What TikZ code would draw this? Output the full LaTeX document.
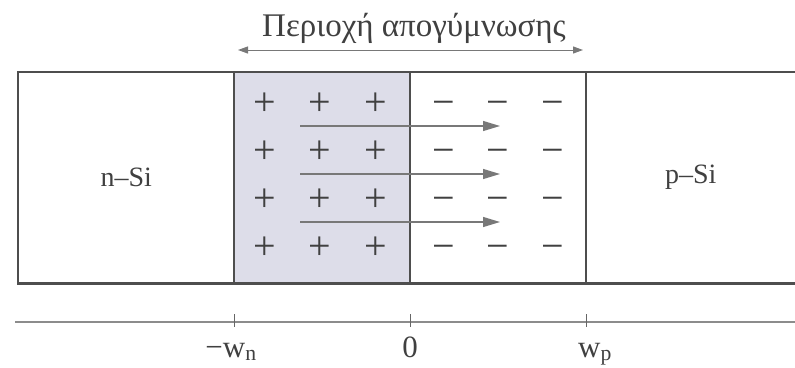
\documentclass[tikz,border=0pt]{standalone}
\usepackage{fontspec}
\setmainfont{Liberation Serif}
\usetikzlibrary{arrows.meta,positioning}
\definecolor{depl}{RGB}{221,221,233}
\definecolor{edge}{RGB}{78,78,78}
\definecolor{lineg}{RGB}{120,120,120}

\begin{document}
\begin{tikzpicture}[
  x=1pt, y=-1pt,
  font=\fontsize{28}{32}\selectfont,
  region/.style={minimum height=211pt, inner sep=0pt, anchor=north west, text=black!75},
  frame/.style={draw=edge, line width=2.6pt},
  charge/.style={font=\fontsize{40}{40}\selectfont, text=black!75, inner sep=0pt, text height=0.5em, text depth=0pt, yshift=-10pt},
  field/.style={-{Triangle[length=17pt, width=10pt]}, line width=1.2pt, draw=lineg},
  span/.style={{Triangle[length=10pt, width=7pt]}-{Triangle[length=10pt, width=7pt]}, line width=1pt, draw=lineg},
  axis/.style={line width=1.6pt, draw=black!45},
  tick/.style={line width=1pt, draw=black!60},
  axlabel/.style={font=\fontsize{31}{35}\selectfont, text=black!75, inner sep=0pt, anchor=base}
]
  \useasboundingbox (0,0) rectangle (795,367);

  % regions
  \node[region, minimum width=216pt] (nsi) at (18,72) {n–Si};
  \node[region, minimum width=176pt, fill=depl] (nsc) at (234,72) {};
  \node[region, minimum width=176pt] (psc) at (410,72) {};
  \node[region, minimum width=209pt] (psi) at (586,72) {p–Si};

  \draw[frame] (psi.north east) -- (nsi.north west) -- (nsi.south west) -- (psi.south east);
  \draw[frame] (nsc.north west) -- (nsc.south west);
  \draw[frame] (psc.north west) -- (psc.south west);
  \draw[frame] (psi.north west) -- (psi.south west);

  % space charge
  \foreach \r/\y in {1/103,2/151,3/199,4/247} {
    \foreach \c/\x in {1/265,2/320,3/376}
      \node[charge] (pos\r\c) at (\x,\y) {+};
    \foreach \c/\x in {1/444,2/498,3/553}
      \node[charge] (neg\r\c) at (\x,\y) {−};
  }

  % field
  \foreach \k/\y in {1/126,2/174,3/222} {
    \coordinate (fs\k) at (300,\y);
    \coordinate (fe\k) at (500,\y);
    \draw[field] (fs\k) -- (fe\k);
  }

  % depletion width
  \coordinate (dl) at ([xshift=4pt, yshift=22pt]nsc.north west);
  \coordinate (dr) at ([xshift=-3pt, yshift=22pt]psi.north west);
  \draw[span] (dl) -- (dr);
  \node[font=\fontsize{33}{37}\selectfont, text=black!75, inner sep=0pt] (title) at (414,28) {Περιοχή απογύμνωσης};

  % axis
  \coordinate (axl) at (15,322);
  \coordinate (axr) at (795,322);
  \draw[axis] (axl) -- (axr);
  \coordinate (t1) at (nsc.south west |- axl);
  \coordinate (t2) at (psc.south west |- axl);
  \coordinate (t3) at (psi.south west |- axl);
  \foreach \t in {t1,t2,t3}
    \draw[tick] ([yshift=8pt]\t) -- ([yshift=-5pt]\t);
  \node[axlabel] (lwn) at ([xshift=-3pt]t1 |- 0,357) {−w\textsubscript{n}};
  \node[axlabel] (lzero) at (t2 |- 0,357) {0};
  \node[axlabel] (lwp) at ([xshift=9pt]t3 |- 0,357) {w\textsubscript{p}};
\end{tikzpicture}
\end{document}
